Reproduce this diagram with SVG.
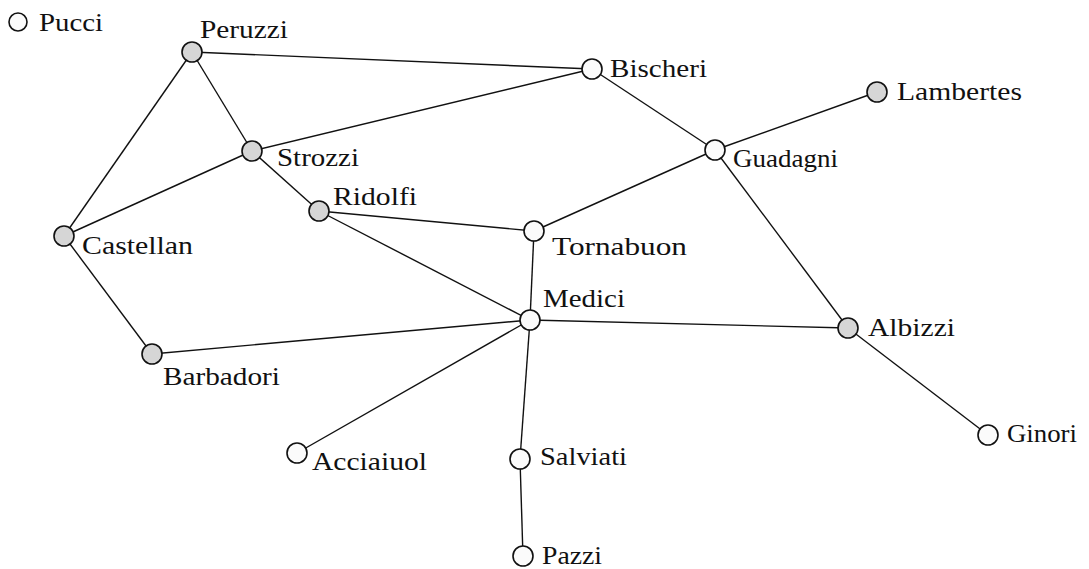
<svg xmlns="http://www.w3.org/2000/svg" width="1089" height="569" viewBox="0 0 1089 569">
<style>
.e{stroke:#111;stroke-width:1.4;fill:none}
.n{stroke:#111;stroke-width:1.6;fill:#fbfbfb}
.g{fill:#d6d6d6}
.t{font-family:"Liberation Serif","Times New Roman",serif;font-size:26px;fill:#111}
</style>
<rect width="1089" height="569" fill="#fff"/>
<g id="edges">
<line class="e" x1="192" y1="52" x2="592" y2="69"/>
<line class="e" x1="192" y1="52" x2="252" y2="151"/>
<line class="e" x1="192" y1="52" x2="64" y2="236"/>
<line class="e" x1="252" y1="151" x2="592" y2="69"/>
<line class="e" x1="252" y1="151" x2="64" y2="236"/>
<line class="e" x1="252" y1="151" x2="319" y2="211"/>
<line class="e" x1="592" y1="69" x2="715" y2="150"/>
<line class="e" x1="715" y1="150" x2="877" y2="92"/>
<line class="e" x1="715" y1="150" x2="534" y2="231"/>
<line class="e" x1="715" y1="150" x2="848" y2="328"/>
<line class="e" x1="319" y1="211" x2="534" y2="231"/>
<line class="e" x1="319" y1="211" x2="530" y2="320"/>
<line class="e" x1="534" y1="231" x2="530" y2="320"/>
<line class="e" x1="64" y1="236" x2="152" y2="354"/>
<line class="e" x1="152" y1="354" x2="530" y2="320"/>
<line class="e" x1="530" y1="320" x2="848" y2="328"/>
<line class="e" x1="530" y1="320" x2="297" y2="453"/>
<line class="e" x1="530" y1="320" x2="520" y2="459"/>
<line class="e" x1="520" y1="459" x2="523" y2="557"/>
<line class="e" x1="848" y1="328" x2="988" y2="435"/>
</g>
<g id="pucci"><circle class="n" cx="18" cy="22" r="9"/><text class="t" x="39" y="31" textLength="64" lengthAdjust="spacingAndGlyphs">Pucci</text></g>
<g id="peruzzi"><circle class="n g" cx="192" cy="52" r="10"/><text class="t" x="200" y="38" textLength="88" lengthAdjust="spacingAndGlyphs">Peruzzi</text></g>
<g id="bischeri"><circle class="n" cx="592" cy="69" r="10"/><text class="t" x="610" y="77" textLength="97" lengthAdjust="spacingAndGlyphs">Bischeri</text></g>
<g id="guadagni"><circle class="n" cx="715" cy="150" r="10"/><text class="t" x="733" y="167" textLength="105" lengthAdjust="spacingAndGlyphs">Guadagni</text></g>
<g id="lambertes"><circle class="n g" cx="877" cy="92" r="10"/><text class="t" x="897" y="100" textLength="125" lengthAdjust="spacingAndGlyphs">Lambertes</text></g>
<g id="strozzi"><circle class="n g" cx="252" cy="151" r="10"/><text class="t" x="277" y="166" textLength="82" lengthAdjust="spacingAndGlyphs">Strozzi</text></g>
<g id="ridolfi"><circle class="n g" cx="319" cy="211" r="10"/><text class="t" x="333" y="205" textLength="84" lengthAdjust="spacingAndGlyphs">Ridolfi</text></g>
<g id="tornabuon"><circle class="n" cx="534" cy="231" r="10"/><text class="t" x="552" y="255" textLength="135" lengthAdjust="spacingAndGlyphs">Tornabuon</text></g>
<g id="castellan"><circle class="n g" cx="64" cy="236" r="10"/><text class="t" x="82" y="254" textLength="111" lengthAdjust="spacingAndGlyphs">Castellan</text></g>
<g id="medici"><circle class="n" cx="530" cy="320" r="10"/><text class="t" x="543" y="307" textLength="82" lengthAdjust="spacingAndGlyphs">Medici</text></g>
<g id="albizzi"><circle class="n g" cx="848" cy="328" r="10"/><text class="t" x="868" y="336" textLength="87" lengthAdjust="spacingAndGlyphs">Albizzi</text></g>
<g id="barbadori"><circle class="n g" cx="152" cy="354" r="10"/><text class="t" x="163" y="385" textLength="117" lengthAdjust="spacingAndGlyphs">Barbadori</text></g>
<g id="ginori"><circle class="n" cx="988" cy="435" r="10"/><text class="t" x="1007" y="442" textLength="70" lengthAdjust="spacingAndGlyphs">Ginori</text></g>
<g id="acciaiuol"><circle class="n" cx="297" cy="453" r="10"/><text class="t" x="312" y="470" textLength="115" lengthAdjust="spacingAndGlyphs">Acciaiuol</text></g>
<g id="salviati"><circle class="n" cx="520" cy="459" r="10"/><text class="t" x="540" y="465" textLength="87" lengthAdjust="spacingAndGlyphs">Salviati</text></g>
<g id="pazzi"><circle class="n" cx="523" cy="556" r="10"/><text class="t" x="542" y="564" textLength="60" lengthAdjust="spacingAndGlyphs">Pazzi</text></g>
</svg>
